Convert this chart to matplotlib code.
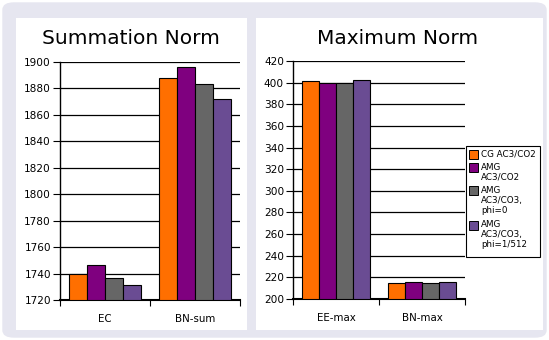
import numpy as np
import matplotlib.pyplot as plt
from matplotlib.patches import FancyBboxPatch

# datos
series = ['CG AC3/CO2', 'AMG\nAC3/CO2', 'AMG\nAC3/CO3,\nphi=0', 'AMG\nAC3/CO3,\nphi=1/512']
colores = ['#ff6f00', '#7f007f', '#666666', '#6a4c93']

cat_sum = ['EC', 'BN-sum']
val_sum = [[1740, 1888], [1746.5, 1896], [1736.5, 1883.5], [1731.5, 1872]]

cat_max = ['EE-max', 'BN-max']
val_max = [[401.5, 215], [400, 215.5], [400, 214.5], [402.5, 215.5]]

W, H = 549, 340
fig = plt.figure(figsize=(W / 100, H / 100), dpi=100)
fig.patch.set_facecolor('white')


def px(x, y):
    # pixeles (desde arriba) -> coordenadas de figura
    return x / W, 1 - y / H


# fondo redondeado
fig.patches.append(FancyBboxPatch((3 / W, 3 / H), 543 / W, 334 / H,
                                  boxstyle='round,pad=0,rounding_size=0.02',
                                  transform=fig.transFigure, facecolor='#e6e6f0',
                                  edgecolor='#e6e6f0', zorder=0))
# paneles blancos
for x0, x1 in [(16, 247), (256, 543)]:
    fig.patches.append(plt.Rectangle((x0 / W, 10 / H), (x1 - x0) / W, 312 / H,
                                     transform=fig.transFigure, facecolor='white',
                                     edgecolor='none', zorder=1))


def grafico(ax, cats, vals, ymin, ymax, paso, titulo, cx):
    x = np.arange(len(cats))
    w = 0.2
    for i, v in enumerate(vals):
        ax.bar(x - 0.3 + i * w, np.array(v) - ymin, bottom=ymin, width=w,
               color=colores[i], edgecolor='black', linewidth=0.8,
               label=series[i], zorder=3)
    ax.set_xlim(-0.5, len(cats) - 0.5)
    ax.set_ylim(ymin, ymax)
    ax.set_yticks(np.arange(ymin, ymax + 1, paso))
    ax.yaxis.grid(True, color='black', linewidth=0.9, zorder=0)
    ax.set_xticks(np.arange(-0.5, len(cats)))
    ax.set_xticklabels([])
    ax.set_xticks(x, minor=True)
    ax.set_xticklabels(cats, minor=True)
    ax.tick_params(axis='x', which='minor', length=0, labelsize=7.4, pad=10)
    ax.tick_params(axis='x', which='major', direction='out', length=4, width=0.8)
    ax.tick_params(axis='y', labelsize=7.6, length=5, width=0.8, pad=1.5)
    for s in ['top', 'right']:
        ax.spines[s].set_visible(False)
    ax.spines['left'].set_linewidth(1)
    ax.spines['bottom'].set_linewidth(1.5)
    ax.set_facecolor('none')
    fig.text(cx / W, 1 - 38 / H, titulo, ha='center', va='center', fontsize=14.5)


ax1 = fig.add_axes([60 / W, 1 - 300 / H, 180 / W, 238 / H])
ax1.set_zorder(2)
grafico(ax1, cat_sum, val_sum, 1720, 1900, 20, 'Summation Norm', 131)

ax2 = fig.add_axes([293 / W, 1 - 299 / H, 172 / W, 238 / H])
ax2.set_zorder(2)
grafico(ax2, cat_max, val_max, 200, 420, 20, 'Maximum Norm', 398)

# leyenda dibujada a mano (cuadro a la altura de la primera linea)
caja = plt.Rectangle(px(466, 257), 74 / W, 111 / H, transform=fig.transFigure,
                     facecolor='white', edgecolor='black', linewidth=0.8, zorder=4)
fig.patches.append(caja)
y = 150
for i, nombre in enumerate(series):
    fig.patches.append(plt.Rectangle(px(469, y + 9), 9 / W, 9 / H,
                                     transform=fig.transFigure, facecolor=colores[i],
                                     edgecolor='black', linewidth=0.7, zorder=5))
    fig.text(481 / W, 1 - (y - 0.5) / H, nombre, ha='left', va='top', fontsize=6.3,
             linespacing=1.15, zorder=6)
    y += 2.5 + 10.5 * (nombre.count('\n') + 1)

plt.savefig('out.png', dpi=100)
